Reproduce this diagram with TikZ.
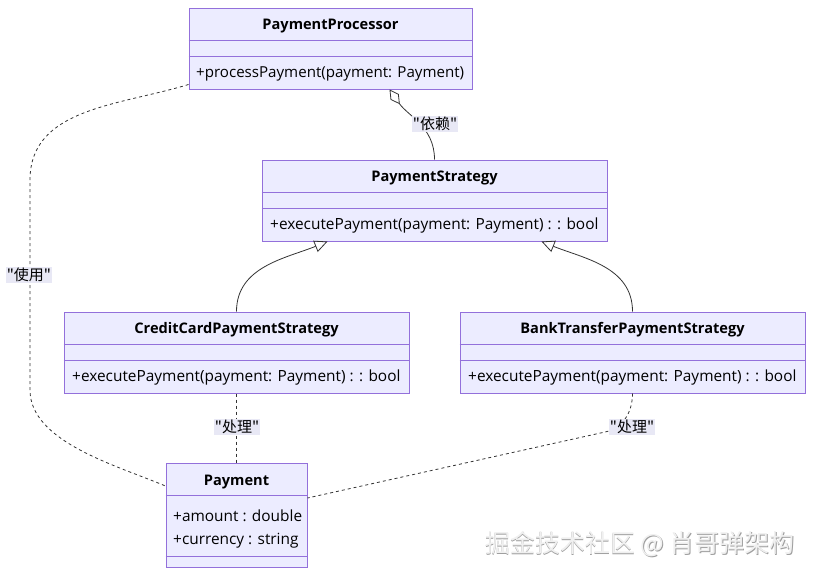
\documentclass[tikz,border=0pt]{standalone}
\usepackage{fontspec}
\setmainfont{Open Sans}
\newfontfamily\cjk{Noto Sans CJK SC}
\usetikzlibrary{arrows.meta,calc}
\definecolor{umlfill}{HTML}{ECECFF}
\definecolor{umledge}{HTML}{9370DB}
\definecolor{umlline}{HTML}{333333}
\definecolor{lblfill}{HTML}{E8E8F5}

\begin{document}
\begin{tikzpicture}
[x=1pt,y=1pt,
 box/.style={draw=umledge,fill=umlfill,line width=1pt,inner sep=0pt},
 sep/.style={draw=umledge,line width=0.8pt},
 title/.style={font=\bfseries\fontsize{14.6}{18}\selectfont,text=black,inner sep=0pt,text height=11pt,text depth=0pt},
 member/.style={font=\fontsize{15.4}{19}\selectfont,text=black,inner sep=0pt,anchor=west,text height=11.5pt,text depth=0pt},
 lbl/.style={fill=lblfill,font=\cjk\fontsize{15}{18}\selectfont,inner xsep=1pt,inner ysep=1pt},
 ext/.style={-{Triangle[open,length=13pt,width=12pt]},umlline,line width=0.8pt},
 agg/.style={{Diamond[open,length=18pt,width=10pt]}-,umlline,line width=0.8pt},
 dep/.style={umlline,line width=0.8pt,dash pattern=on 3pt off 3pt},
 wmark/.style={font=\cjk\fontsize{25}{29}\selectfont,inner sep=0pt}]
\useasboundingbox (0,0) rectangle (813,-576);

% classes
\node [box,minimum width=283pt,minimum height=81pt] at (330.5,-48.5) (proc) {};
\node [title] at (330.5,-24) (procT) {PaymentProcessor};
\draw [sep] (proc.west |- 0,-40) -- (proc.east |- 0,-40);
\draw [sep] (proc.west |- 0,-56) -- (proc.east |- 0,-56);
\node [member,font=\fontsize{15.1}{19}\selectfont] at (196,-72) (procM) {+processPayment(payment: Payment)};

\node [box,minimum width=345pt,minimum height=81pt] at (434.5,-200.5) (strat) {};
\node [title] at (434.5,-176) (stratT) {PaymentStrategy};
\draw [sep] (strat.west |- 0,-192) -- (strat.east |- 0,-192);
\draw [sep] (strat.west |- 0,-208) -- (strat.east |- 0,-208);
\node [member] at (270,-224) (stratM) {+executePayment(payment: Payment) : : bool};

\node [box,minimum width=345pt,minimum height=81pt] at (236.5,-352.5) (credit) {};
\node [title] at (236.5,-328) (creditT) {CreditCardPaymentStrategy};
\draw [sep] (credit.west |- 0,-344) -- (credit.east |- 0,-344);
\draw [sep] (credit.west |- 0,-360) -- (credit.east |- 0,-360);
\node [member] at (72,-376) (creditM) {+executePayment(payment: Payment) : : bool};

\node [box,minimum width=345pt,minimum height=81pt] at (632.5,-352.5) (bank) {};
\node [title] at (632.5,-328) (bankT) {BankTransferPaymentStrategy};
\draw [sep] (bank.west |- 0,-344) -- (bank.east |- 0,-344);
\draw [sep] (bank.west |- 0,-360) -- (bank.east |- 0,-360);
\node [member] at (468,-376) (bankM) {+executePayment(payment: Payment) : : bool};

\node [box,minimum width=141pt,minimum height=104pt] at (236.5,-515) (pay) {};
\node [title] at (236.5,-480) (payT) {Payment};
\draw [sep] (pay.west |- 0,-495) -- (pay.east |- 0,-495);
\draw [sep] (pay.west |- 0,-556) -- (pay.east |- 0,-556);
\node [member] at (173,-516) (payA) {+amount : double};
\node [member] at (173,-539) (payB) {+currency : string};

% relations
\draw [agg] ($(proc.south)+(59,0)$) to[out=-55,in=90] (strat.north);
\draw [ext] (credit.north) to[out=90,in=-158] ($(strat.south)+(-107,0)$);
\draw [ext] (bank.north) to[out=90,in=-22] ($(strat.south)+(107,0)$);
\draw [dep] ($(proc.south west)+(0,5)$) to[out=197,in=90] (30,-180) -- (30,-390)
  to[out=-90,in=157,looseness=0.8] ($(pay.west)+(0,29)$);
\draw [dep] (credit.south) -- (pay.north);
\draw [dep] (bank.south) to[out=-90,in=12] (605,-432) -- ($(pay.east)+(0,17)$);

% labels
\node [lbl] at (435,-124) (lblDep) {"依赖"};
\node [lbl] at (29,-275) (lblUse) {"使用"};
\node [lbl] at (237,-427) (lblCC) {"处理"};
\node [lbl] at (632,-427) (lblBT) {"处理"};

% watermark
\node [wmark,text=gray!75] at (640.8,-544.8) (wmS) {掘金技术社区 @ 肖哥弹架构};
\node [wmark,text=gray!12] at (640,-544) (wm) {掘金技术社区 @ 肖哥弹架构};
\end{tikzpicture}
\end{document}
